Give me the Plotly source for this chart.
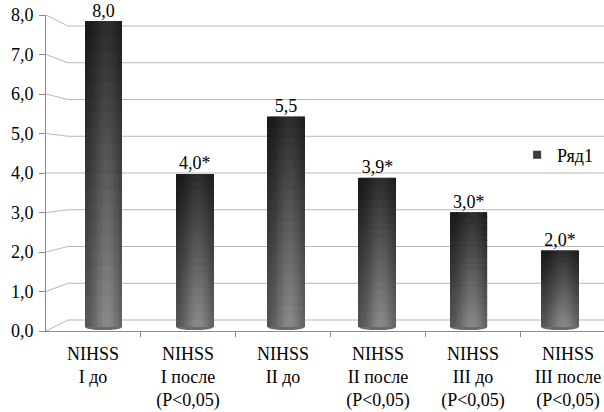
import math
import plotly.graph_objects as go

# ---------------- data ----------------
categories = [
    "NIHSS<br>I до",
    "NIHSS<br>I после<br>(P&lt;0,05)",
    "NIHSS<br>II до",
    "NIHSS<br>II после<br>(P&lt;0,05)",
    "NIHSS<br>III до<br>(P&lt;0,05)",
    "NIHSS<br>III после<br>(P&lt;0,05)",
]
values = [8.0, 4.0, 5.5, 3.9, 3.0, 2.0]
value_labels = ["8,0", "4,0*", "5,5", "3,9*", "3,0*", "2,0*"]
series_name = "Ряд1"
y_tickvals = [0, 1, 2, 3, 4, 5, 6, 7, 8]
y_ticktext = ["0,0", "1,0", "2,0", "3,0", "4,0", "5,0", "6,0", "7,0", "8,0"]

# ---------------- style ----------------
FONT = "Liberation Serif"
W, H = 604, 412
L_M, R_M, T_M, B_M = 46, 0, 15, 81
GRID = "#b8b8b8"
AXIS = "#8c8c8c"
BAR_W = 0.405          # bar width in bar-axis units
M_STRIPS, N_SEGS = 30, 20


def shade(u, t):
    """cylinder-like shading: u across width (0..1), t up the bar (0..1)"""
    s = math.exp(-((u - 0.6) / 0.38) ** 2)
    lo = 0.31 + 0.23 * s
    hi = 0.08 + 0.09 * s
    lum = (1 - t) * lo + t * hi
    c = int(round(lum * 255))
    return f"rgb({c},{c},{c})"


xs, bases, ys, offs, wids, cols = [], [], [], [], [], []
for i, v in enumerate(values):
    for k in range(M_STRIPS):
        u = (k + 0.5) / M_STRIPS
        off = -BAR_W / 2 + k * BAR_W / M_STRIPS
        wd = min(BAR_W / M_STRIPS * 1.6, BAR_W / 2 - off)
        for j in range(N_SEGS):
            t = (j + 0.5) / N_SEGS
            b = v * j / N_SEGS
            h = min(v / N_SEGS * 1.15, v - b)
            xs.append(i)
            bases.append(b)
            ys.append(h)
            offs.append(off)
            wids.append(wd)
            cols.append(shade(u, t))

fig = go.Figure()

# invisible trace registering the categories on the label axis
fig.add_trace(go.Scatter(
    x=categories, y=[0] * len(categories), mode="markers",
    marker=dict(opacity=0), showlegend=False, hoverinfo="skip",
    xaxis="x", yaxis="y",
))

# cylinder bars (shaded strips)
fig.add_trace(go.Bar(
    x=xs, y=ys, base=bases, offset=offs, width=wids,
    marker=dict(color=cols, line=dict(width=0)),
    xaxis="x2", yaxis="y2", showlegend=False, hoverinfo="skip",
))

# value labels
fig.add_trace(go.Scatter(
    x=list(range(len(values))), y=values, mode="text",
    text=value_labels, textposition="top center",
    textfont=dict(family=FONT, size=18, color="black"),
    xaxis="x2", yaxis="y2", showlegend=False, cliponaxis=False,
    hoverinfo="skip",
))

# legend entry
fig.add_trace(go.Scatter(
    x=[None], y=[None], mode="markers", name=series_name,
    marker=dict(symbol="square", size=8, color="#3c3c3c"),
    xaxis="x2", yaxis="y2",
))

# back-wall gridlines (3D look) with diagonal connectors to the front axis
wall_x = (68 - L_M) / (W - L_M - R_M)
shapes = []
for v in y_tickvals:
    yb = (11 + 36.75 * v) / 39.5
    shapes.append(dict(type="line", xref="paper", yref="y", x0=0, x1=wall_x,
                       y0=v, y1=yb, line=dict(color=GRID, width=1), layer="below"))
    shapes.append(dict(type="line", xref="paper", yref="y", x0=wall_x, x1=1,
                       y0=yb, y1=yb, line=dict(color=GRID, width=1), layer="below"))
# rounded bar bottoms
for i, v in enumerate(values):
    shapes.append(dict(type="circle", xref="x2", yref="y2",
                       x0=i - BAR_W / 2, x1=i + BAR_W / 2, y0=-0.08, y1=0.08,
                       fillcolor="#6a6a6a", line=dict(width=0), layer="below"))

fig.update_layout(
    width=W, height=H,
    margin=dict(l=L_M, r=R_M, t=T_M, b=B_M, pad=0),
    paper_bgcolor="white", plot_bgcolor="white",
    barmode="overlay",
    font=dict(family=FONT, size=18, color="black"),
    shapes=shapes,
    xaxis=dict(
        type="category", categoryorder="array", categoryarray=categories,
        range=[-0.495, 5.379], showgrid=False, zeroline=False,
        showline=True, linecolor=AXIS, linewidth=1,
        ticks="outside", tickson="boundaries", ticklen=5, tickcolor=AXIS,
        tickfont=dict(family=FONT, size=18, color="black"),
        ticklabelstandoff=6,
        fixedrange=True, automargin=False,
    ),
    xaxis2=dict(overlaying="x", range=[-0.630, 5.482], visible=False),
    yaxis=dict(
        range=[0, 8], tickvals=y_tickvals, ticktext=y_ticktext,
        showgrid=False, zeroline=False, showline=True, linecolor=AXIS,
        linewidth=1, ticks="outside", ticklen=6, tickcolor=AXIS,
        tickfont=dict(family=FONT, size=18, color="black"),
        ticklabelstandoff=2, automargin=False,
    ),
    yaxis2=dict(overlaying="y", range=[-0.105, 8.157], visible=False),
    legend=dict(
        x=0.8443, y=0.557, xanchor="left", yanchor="middle",
        font=dict(family=FONT, size=18, color="black"),
        bgcolor="rgba(0,0,0,0)",
    ),
    showlegend=True,
)

fig.write_html(
    "out.html",
    config={"displayModeBar": False},
    post_script="document.body.style.margin='0';document.body.style.padding='0';",
)
